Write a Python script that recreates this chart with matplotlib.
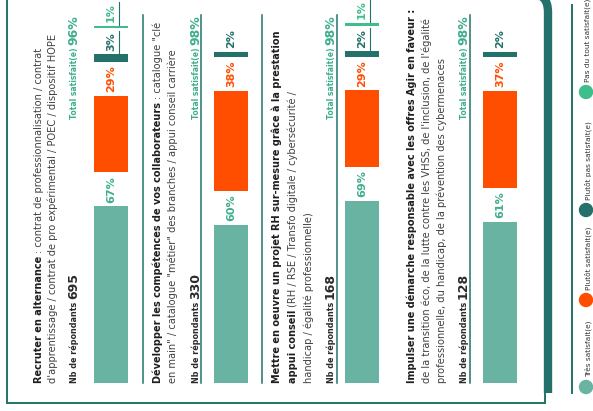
import matplotlib
matplotlib.use('Agg')
import matplotlib.pyplot as plt
from matplotlib.patches import Rectangle, Circle, PathPatch
from matplotlib.path import Path

plt.rcParams['font.family'] = ['DejaVu Sans']

# données
respondents = [695, 330, 168, 128]
total_satisfied = [96, 98, 98, 98]
tres_satisfait = [67, 60, 69, 61]
plutot_satisfait = [29, 38, 29, 37]
plutot_pas = [3, 2, 2, 2]
pas_du_tout = [1, None, 1, None]
legend_labels = ['Très satisfait(e)', 'Plutôt satisfait(e)',
                 'Plutôt pas satisfait(e)', 'Pas du tout satisfait(e)']

# texte de chaque ligne : (texte, gras)
row_text = [
    [[("Recruter en alternance", True), (": contrat de professionnalisation / contrat", False)],
     [("d'apprentissage / contrat de pro expérimental / POEC / dispositif HOPE", False)]],
    [[("Développer les compétences de vos collaborateurs", True), (': catalogue "clé', False)],
     [('en main" / catalogue "métier" des branches / appui conseil carrière', False)]],
    [[("Mettre en oeuvre un projet RH sur-mesure grâce à la prestation", True)],
     [("appui conseil", True), ("(RH / RSE / Transfo digitale / cybersécurité /", False)],
     [("handicap / égalité professionnelle)", False)]],
    [[("Impulser une démarche responsable avec les offres Agir en faveur :", True)],
     [("de la transition éco, de la lutte contre les VHSS, de l'inclusion, de l'égalité", False)],
     [("professionnelle, du handicap, de la prévention des cybermenaces", False)]],
]

colors = ['#69b3a2', '#ff4e00', '#23716a', '#3dbe8a']
label_colors = ['#3fae8e', '#ff4e00', '#23716a', '#3dbe8a']
teal = '#23716a'
green_txt = '#3fae8e'

# mise en page (pixels)
W, H = 593, 411
base_y = 383
top_y = 15
px_per_pct = 2.64
line_x = [[42, 56], [161, 176], [280, 296, 312], [415, 430, 445]]
count_x = [77, 199, 334, 467]
bar_x = [111, 231, 362, 500]
bar_w = 34
separators = [143, 201, 262, 337, 470]

fig = plt.figure(figsize=(W / 100, H / 100), dpi=100)
renderer = fig.canvas.get_renderer()

deco = fig.add_axes([0, 0, 1, 1])
deco.set_xlim(0, W)
deco.set_ylim(H, 0)
deco.axis('off')

# carte + bandeau
deco.add_patch(Rectangle((7, -10), 538, 413, facecolor='white', edgecolor=teal, lw=1.4, zorder=1))
band = Path([(548, 393), (548, 12), (548, -6), (532, -6), (400, -6)],
            [Path.MOVETO, Path.LINETO, Path.CURVE3, Path.CURVE3, Path.LINETO])
deco.add_patch(PathPatch(band, facecolor='none', edgecolor=teal, lw=6, capstyle='butt', zorder=3))

for sx in separators:
    deco.plot([sx, sx], [top_y, base_y], color=teal, lw=1.1, zorder=2)


def draw_parts(x, y, parts, ha='left'):
    for text, size, weight, color, gap in parts:
        t = deco.text(x, y, text, rotation=90, rotation_mode='anchor', ha=ha, va='baseline',
                      fontsize=size, fontweight=weight, color=color, zorder=4)
        bb = t.get_window_extent(renderer)
        if ha == 'left':
            y = H - bb.y1 - gap
        else:
            y = H - bb.y0 + gap


for i, lines in enumerate(row_text):
    for j, line in enumerate(lines):
        parts = [(s, 7.0 if b else 7.1, 'bold' if b else 'normal',
                  '#1e1e1e' if b else '#404040', 3) for s, b in line]
        draw_parts(line_x[i][j], base_y, parts)
    draw_parts(count_x[i], base_y, [("Nb de répondants", 5.8, 'bold', '#2a2a2a', 3),
                                    (str(respondents[i]), 9, 'bold', '#2a2a2a', 0)])
    draw_parts(count_x[i], top_y, [(f"{total_satisfied[i]}%", 9, 'bold', green_txt, 3),
                                   ("Total satisfait(e)", 5.5, 'bold', green_txt, 0)], ha='right')

# barres
pad = 3.5 / px_per_pct
for i in range(4):
    ax = fig.add_axes([(bar_x[i] - bar_w / 2) / W, (H - base_y) / H, bar_w / W, base_y / H])
    ax.set_xlim(-0.5, 0.5)
    ax.set_ylim(0, base_y / px_per_pct)
    ax.axis('off')
    vals = [tres_satisfait[i], plutot_satisfait[i], plutot_pas[i], pas_du_tout[i]]
    vals = [v for v in vals if v is not None]
    inv = ax.transData.inverted()
    start = 0
    for k, v in enumerate(vals):
        ax.bar(0, v, bottom=start, width=1, color=colors[k], clip_on=False)
        t = ax.text(0, start + v + pad, f"{v}%", rotation=90, rotation_mode='anchor',
                    ha='left', va='center', fontsize=8, fontweight='bold',
                    color=label_colors[k], clip_on=False)
        bb = t.get_window_extent(renderer)
        lab_end = inv.transform((bb.x0, bb.y1))[1]
        if len(vals) == 4 and k >= 2:
            ax.plot([0.24, 0.24], [start + v + pad * 0.3, lab_end + pad * 0.3],
                    color=teal, lw=0.8, clip_on=False)
        start = lab_end + pad

# légende
deco.plot([572, 572], [5, 393], color=teal, lw=1.4)
leg_y = [387, 300, 210, 92]
for c, ly, lab in zip(colors, leg_y, legend_labels):
    deco.add_patch(Circle((586, ly), 6.5, color=c, zorder=4))
    deco.text(588, ly - 10, lab, rotation=90, rotation_mode='anchor', ha='left', va='center',
              fontsize=5.3, color='#333333', zorder=4)

fig.savefig('out.png', dpi=100, facecolor='white')
